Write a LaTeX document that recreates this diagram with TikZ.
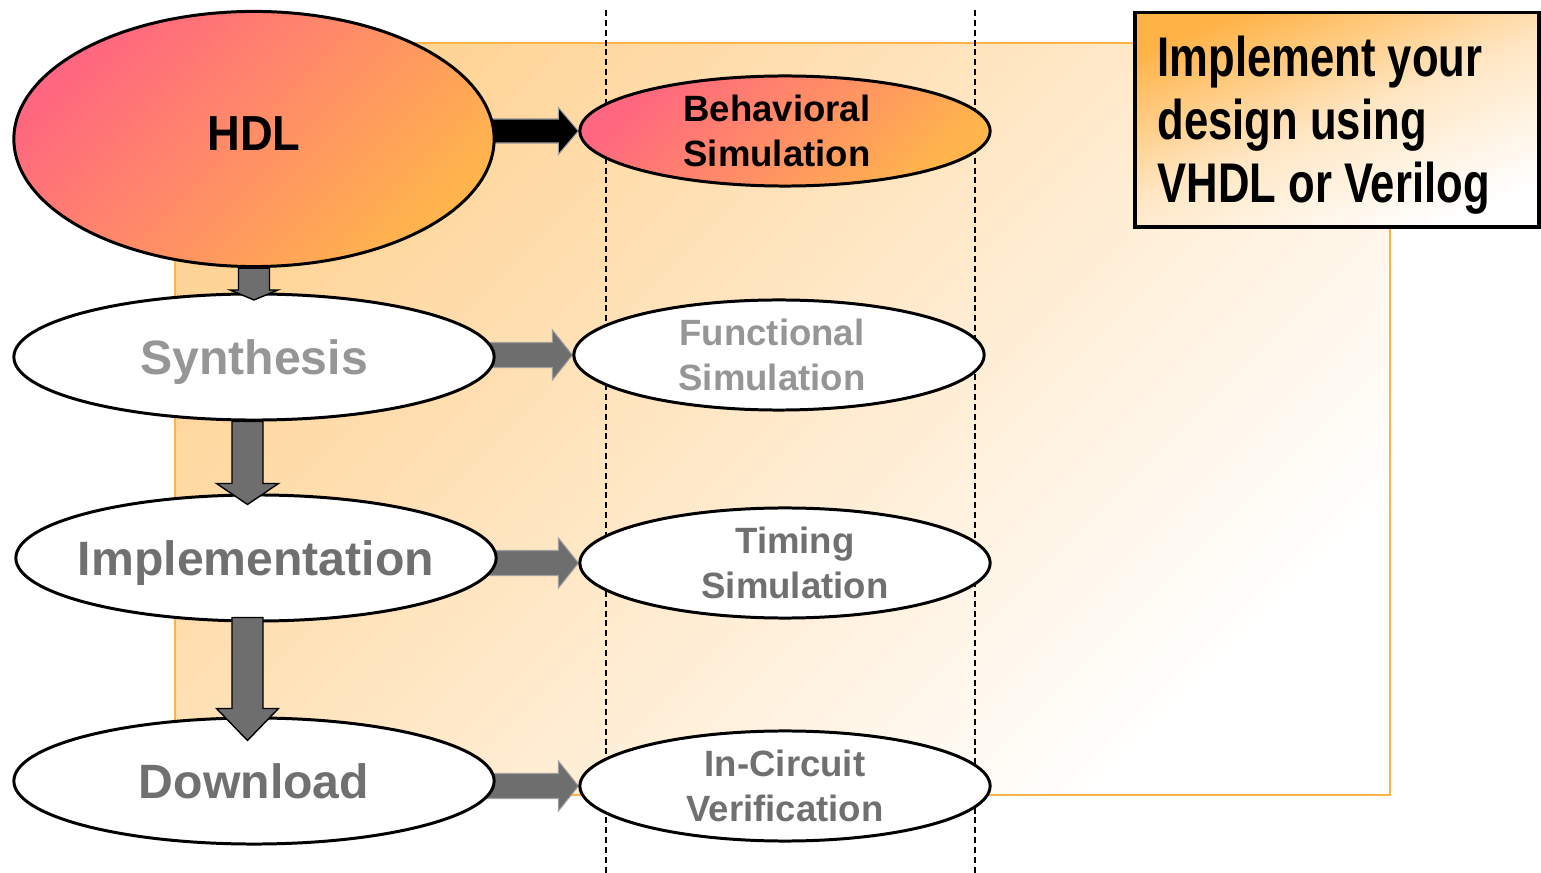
\documentclass[tikz,border=0pt]{standalone}
\usepackage{fontspec}
\setmainfont{Liberation Sans}
\newfontfamily\narrowfont[FakeStretch=0.78]{Liberation Sans}
\newfontfamily\hdlfont[FakeStretch=0.92]{Liberation Sans}
\usetikzlibrary{shapes.geometric,calc}
\definecolor{bgor}{HTML}{FFD497}
\definecolor{bgborder}{HTML}{FFB347}
\definecolor{pinkc}{HTML}{FF6680}
\definecolor{orc}{HTML}{FFB54C}
\definecolor{boxor}{HTML}{FFB347}
\definecolor{arrgray}{HTML}{6E6E6E}
\definecolor{lgtext}{HTML}{969696}
\definecolor{dgtext}{HTML}{707070}
\pgfdeclarelayer{back}
\pgfdeclarelayer{arrows}
\pgfsetlayers{back,arrows,main}
% horizontal block arrow: style, from, to, shaft half, head half
\newcommand\harr[5]{%
  \draw[#1] let \p1=(#2.east), \p2=(#3.west) in
    ({\x1-0.1cm},{\y2+#4}) -- ({\x2-0.2cm},{\y2+#4}) -- ({\x2-0.2cm},{\y2+#5})
    -- (\x2,\y2) -- ({\x2-0.2cm},{\y2-#5}) -- ({\x2-0.2cm},{\y2-#4})
    -- ({\x1-0.1cm},{\y2-#4}) -- cycle;}
% vertical block arrow: from, to, dx, shaft half, head half, head length, tip depth, start raise
\newcommand\varr[8]{%
  \draw[varrow] let \p1=(#1.south), \p2=(#2.north) in
    ({\x1+#3-#4},{\y1+#8}) -- ({\x1+#3+#4},{\y1+#8})
    -- ({\x1+#3+#4},{\y2-#7+#6}) -- ({\x1+#3+#5},{\y2-#7+#6})
    -- ({\x1+#3},{\y2-#7}) -- ({\x1+#3-#5},{\y2-#7+#6})
    -- ({\x1+#3-#4},{\y2-#7+#6}) -- cycle;}
\begin{document}
\begin{tikzpicture}[x=0.01cm,y=-0.01cm,
  bigell/.style={ellipse, draw=black, line width=0.85pt, fill=white,
    minimum width=4.8cm, minimum height=1.26cm, inner xsep=-0.4cm, inner ysep=0pt,
    align=center, text height=9.8pt, text depth=0pt,
    font=\fontsize{13.7}{16}\selectfont\bfseries},
  smallell/.style={ellipse, draw=black, line width=0.85pt, fill=white,
    minimum width=4.1cm, minimum height=1.1cm, inner sep=0pt, align=center,
    font=\fontsize{10.4}{12.8}\selectfont\bfseries},
  gradfill/.style={top color=pinkc, bottom color=orc, shading angle=45},
  guide/.style={line width=0.45pt, dash pattern=on 1.7pt off 1.1pt},
  harrow/.style={fill=arrgray, draw=gray!75, line width=0.3pt},
  harrowblack/.style={fill=black, draw=gray!75, line width=0.3pt},
  varrow/.style={fill=arrgray, draw=black, line width=0.4pt}
]
\useasboundingbox (0,0) rectangle (1541,873);

\begin{pgfonlayer}{back}
  \shade[top color=bgor, bottom color=white, shading angle=45] (175,43) rectangle (1390,795);
  \draw[bgborder, line width=0.5pt] (175,43) rectangle (1390,795);
  \draw[guide] (606,10) -- (606,873);
  \draw[guide] (975,10) -- (975,873);
\end{pgfonlayer}

\node[bigell, gradfill, minimum height=2.55cm, text height=10pt, text depth=0.12cm,
  font=\hdlfont\fontsize{14}{16}\selectfont\bfseries] (hdl) at (254,139) {HDL};
\node[smallell, gradfill] (beh) at (785,131)
  {\hspace*{-0.16cm}Behavioral\\\hspace*{-0.16cm}Simulation};
\node[bigell, text=lgtext] (syn) at (254,357) {Synthesis};
\node[smallell, text=lgtext] (fun) at (779,355)
  {\hspace*{-0.14cm}Functional\\\hspace*{-0.14cm}Simulation};
\node[bigell, text=dgtext] (imp) at (256,558) {Implementation};
\node[smallell, text=dgtext] (tim) at (785,563)
  {\hspace*{0.2cm}Timing\\\hspace*{0.2cm}Simulation};
\node[bigell, text=dgtext] (dow) at (254,781) {Download};
\node[smallell, text=dgtext] (inc) at (785,786) {In-Circuit\\Verification};

\begin{pgfonlayer}{arrows}
  \harr{harrowblack}{hdl}{beh}{0.12cm}{0.235cm}
  \harr{harrow}{syn}{fun}{0.125cm}{0.25cm}
  \harr{harrow}{imp}{tim}{0.125cm}{0.25cm}
  \harr{harrow}{dow}{inc}{0.125cm}{0.25cm}
\end{pgfonlayer}

\varr{hdl}{syn}{0cm}{0.155cm}{0.24cm}{0.10cm}{0.075cm}{0cm}
\varr{syn}{imp}{-0.065cm}{0.155cm}{0.31cm}{0.21cm}{0.11cm}{0cm}
\varr{imp}{dow}{-0.085cm}{0.155cm}{0.31cm}{0.32cm}{0.24cm}{0.05cm}

\node[draw=black, line width=1.1pt, top color=boxor, bottom color=white,
  middle color=boxor!32!white, shading angle=22, minimum width=4.04cm, minimum height=2.14cm,
  anchor=north west, inner sep=0pt, outer sep=0pt] (box) at (1135,12.5) {};
\node[anchor=north west, inner sep=0pt, align=left,
  font=\narrowfont\fontsize{15.9}{17.9}\selectfont\bfseries] (boxtext) at (1157,35)
  {Implement your\\design using\\VHDL or Verilog};
\end{tikzpicture}
\end{document}
